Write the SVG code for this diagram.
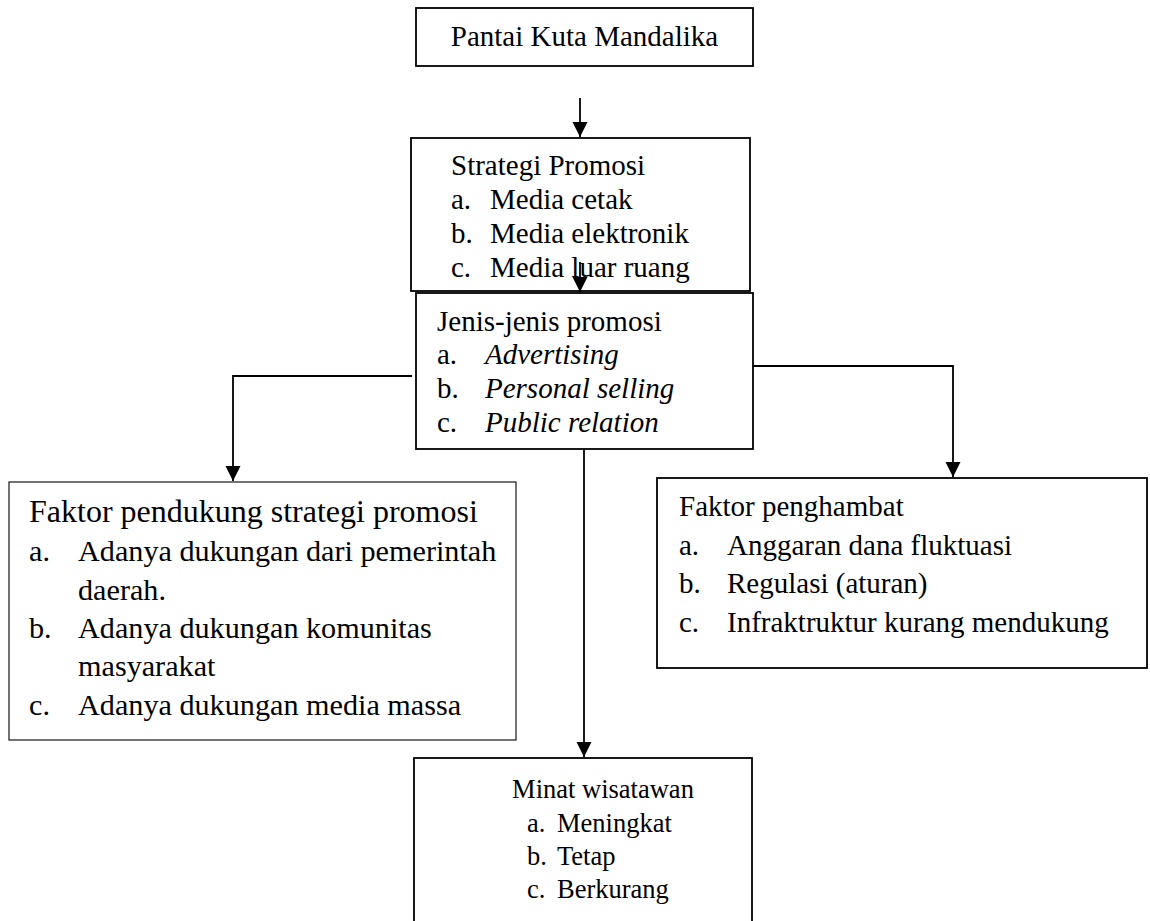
<svg xmlns="http://www.w3.org/2000/svg" width="1150" height="921" viewBox="0 0 1150 921">
<style>
.box{fill:#fff;stroke:#000;stroke-width:1.8}
.thin{stroke-width:1.1}
.t{font-family:"Liberation Serif","Times New Roman",serif;fill:#000}
.f29{font-size:29px}
.f32{font-size:32px}
.f30{font-size:30.2px}
.f27{font-size:26.5px}
.it{font-style:italic}
.c{fill:none;stroke:#000;stroke-width:1.8}
</style>
<defs>
<marker id="ah" markerUnits="userSpaceOnUse" markerWidth="16" markerHeight="16" refX="15" refY="7.5" orient="auto">
<path d="M0,0 L15,7.5 L0,15 z" fill="#000"/>
</marker>
</defs>
<rect width="1150" height="921" fill="#fff"/>
<g id="n1">
<rect class="box" x="416" y="8" width="337" height="58"/>
<text class="t f29" x="584.5" y="46" text-anchor="middle">Pantai Kuta Mandalika</text>
</g>
<g id="n2">
<rect class="box" x="411" y="138" width="339" height="153"/>
<text class="t f29" x="451" y="175">Strategi Promosi</text>
<text class="t f29" x="451" y="209">a.</text><text class="t f29" x="490" y="209">Media cetak</text>
<text class="t f29" x="451" y="243">b.</text><text class="t f29" x="490" y="243">Media elektronik</text>
<text class="t f29" x="451" y="277">c.</text><text class="t f29" x="490" y="277">Media luar ruang</text>
</g>
<g id="n3">
<rect class="box" x="416" y="293" width="337" height="156"/>
<text class="t f29" x="437" y="331">Jenis-jenis promosi</text>
<text class="t f29" x="437" y="364">a.</text><text class="t f29 it" x="485" y="364">Advertising</text>
<text class="t f29" x="437" y="398">b.</text><text class="t f29 it" x="485" y="398">Personal selling</text>
<text class="t f29" x="437" y="432">c.</text><text class="t f29 it" x="485" y="432">Public relation</text>
</g>
<g id="n4">
<rect class="box thin" x="9" y="482" width="507" height="258"/>
<text class="t f32" x="29" y="522">Faktor pendukung strategi promosi</text>
<text class="t f30" x="29" y="561">a.</text><text class="t f30" x="78" y="561">Adanya dukungan dari pemerintah</text>
<text class="t f30" x="78" y="600">daerah.</text>
<text class="t f30" x="29" y="638">b.</text><text class="t f30" x="78" y="638">Adanya dukungan komunitas</text>
<text class="t f30" x="78" y="676">masyarakat</text>
<text class="t f30" x="29" y="715">c.</text><text class="t f30" x="78" y="715">Adanya dukungan media massa</text>
</g>
<g id="n5">
<rect class="box" x="657" y="478" width="490" height="190"/>
<text class="t f29" x="679" y="516">Faktor penghambat</text>
<text class="t f29" x="679" y="555">a.</text><text class="t f29" x="727" y="555">Anggaran dana fluktuasi</text>
<text class="t f29" x="679" y="593">b.</text><text class="t f29" x="727" y="593">Regulasi (aturan)</text>
<text class="t f29" x="679" y="632">c.</text><text class="t f29" x="727" y="632">Infraktruktur kurang mendukung</text>
</g>
<g id="n6">
<rect class="box" x="414" y="758" width="338" height="180"/>
<text class="t f27" x="603" y="798" text-anchor="middle">Minat wisatawan</text>
<text class="t f27" x="527" y="832">a.</text><text class="t f27" x="557" y="832">Meningkat</text>
<text class="t f27" x="527" y="865">b.</text><text class="t f27" x="557" y="865">Tetap</text>
<text class="t f27" x="527" y="898">c.</text><text class="t f27" x="557" y="898">Berkurang</text>
</g>
<g id="connectors">
<path class="c" d="M580,98 L580,137" marker-end="url(#ah)"/>
<path class="c" d="M580,262 L580,292" marker-end="url(#ah)"/>
<path class="c" d="M412,376 L233,376 L233,481" marker-end="url(#ah)"/>
<path class="c" d="M753,366 L953,366 L953,477" marker-end="url(#ah)"/>
<path class="c" d="M584,449 L584,757" marker-end="url(#ah)"/>
</g>
</svg>
